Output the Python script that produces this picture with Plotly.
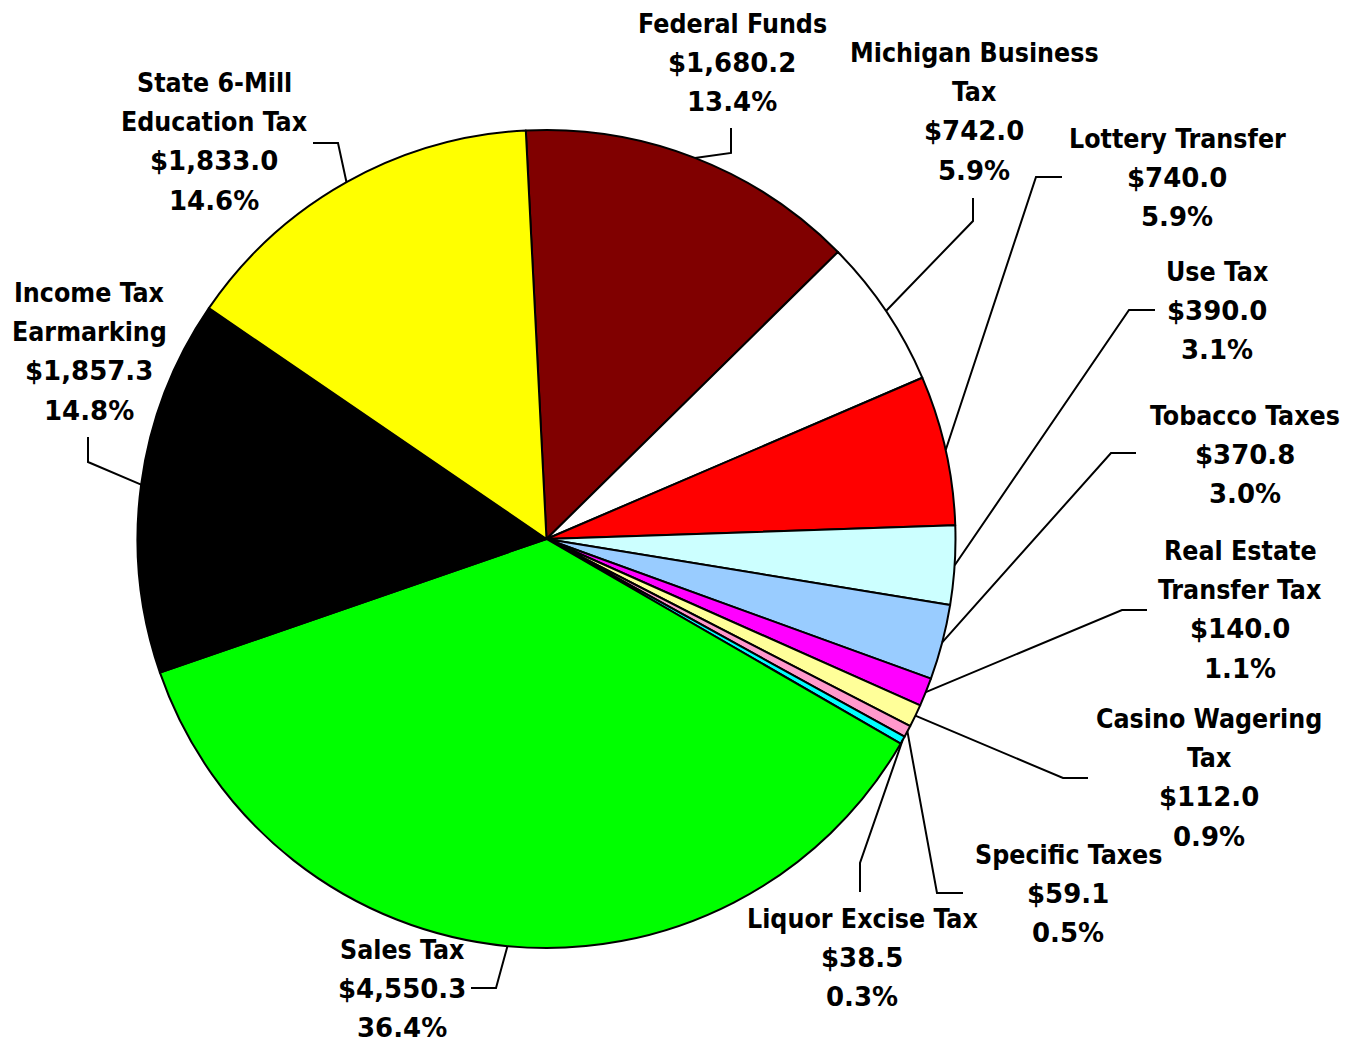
import math
import plotly.graph_objects as go

# ---------------- data ----------------
categories = ["Federal Funds", "Michigan Business Tax", "Lottery Transfer", "Use Tax",
              "Tobacco Taxes", "Real Estate Transfer Tax", "Casino Wagering Tax",
              "Specific Taxes", "Liquor Excise Tax", "Sales Tax",
              "Income Tax Earmarking", "State 6-Mill Education Tax"]
values = [1680.2, 742.0, 740.0, 390.0, 370.8, 140.0, 112.0, 59.1, 38.5, 4550.3, 1857.3, 1833.0]
label_names = [["Federal Funds"], ["Michigan Business", "Tax"], ["Lottery Transfer"], ["Use Tax"],
               ["Tobacco Taxes"], ["Real Estate", "Transfer Tax"], ["Casino Wagering", "Tax"],
               ["Specific Taxes"], ["Liquor Excise Tax"], ["Sales Tax"],
               ["Income Tax", "Earmarking"], ["State 6-Mill", "Education Tax"]]
colors = ["#800000", "#FFFFFF", "#FF0000", "#CCFFFF", "#99CCFF", "#FF00FF", "#FFFF99",
          "#FF99CC", "#00FFFF", "#00FF00", "#000000", "#FFFF00"]

# ---------------- layout constants (page pixels) ----------------
W, H = 1364, 1043
OFF = 8  # default page body margin
FW, FH = W - OFF, H - OFF
CX, CY, R = 546.5, 539.0, 409.0
ROTATION = -2.9
LINE_H = 39.7
NAME_FONT = dict(family="DejaVu Sans Condensed, DejaVu Sans", size=26.5, color="black")
NUM_FONT = dict(family="DejaVu Sans", size=26, color="black")

# label placement: (center x, first line center y), leader path from label end -> elbow
label_pos = [(732, 23), (974, 52), (1177, 138), (1217, 271), (1245, 415), (1240, 550),
             (1209, 718), (1068, 854), (862, 918), (402, 949), (89, 292), (214, 82)]
leader_pts = [[(731, 128), (731, 153)], [(973, 198), (973, 221)], [(1062, 177), (1036, 177)],
              [(1155, 310), (1129, 310)], [(1136, 453), (1111, 453)], [(1147, 610), (1122, 610)],
              [(1088, 778), (1063, 778)], [(963, 893), (937, 893)], [(860, 892), (860, 863)],
              [(471, 988), (496, 988)], [(88, 437), (88, 462)], [(313, 143), (338, 143)]]

total = sum(values)

fig = go.Figure()
fig.add_trace(go.Pie(
    labels=categories, values=values, sort=False, direction="clockwise",
    rotation=ROTATION, textinfo="none", hoverinfo="skip", showlegend=False,
    marker=dict(colors=colors, line=dict(color="black", width=2)),
    domain=dict(x=[(CX - R - OFF) / FW, (CX + R - OFF) / FW],
                y=[1 - (CY + R - OFF) / FH, 1 - (CY - R - OFF) / FH]),
))

annotations = []
shapes = []
cum = 0.0
for name_lines, v, (lx, ly), pts in zip(label_names, values, label_pos, leader_pts):
    pct = v / total * 100
    lines = [(t, NAME_FONT) for t in name_lines] + [(f"${v:,.1f}", NUM_FONT), (f"{pct:.1f}%", NUM_FONT)]
    for i, (t, fnt) in enumerate(lines):
        annotations.append(dict(x=lx, y=ly + i * LINE_H, xref="x", yref="y", text=f"<b>{t}</b>",
                                showarrow=False, font=fnt, xanchor="center", yanchor="middle"))
    mid = math.radians(ROTATION + (cum + v / 2) / total * 360)
    ax, ay = CX + R * math.sin(mid), CY - R * math.cos(mid)
    cum += v
    p = pts + [(ax, ay)]
    path = "M " + " L ".join(f"{x:.1f},{y:.1f}" for x, y in p)
    shapes.append(dict(type="path", path=path, xref="x", yref="y",
                       line=dict(color="black", width=2)))

fig.update_layout(
    width=FW, height=FH, margin=dict(l=0, r=0, t=0, b=0),
    paper_bgcolor="white", plot_bgcolor="rgba(0,0,0,0)",
    xaxis=dict(range=[OFF, W], visible=False, fixedrange=True),
    yaxis=dict(range=[H, OFF], visible=False, fixedrange=True),
    annotations=annotations, shapes=shapes,
)
fig.write_html("out.html")
